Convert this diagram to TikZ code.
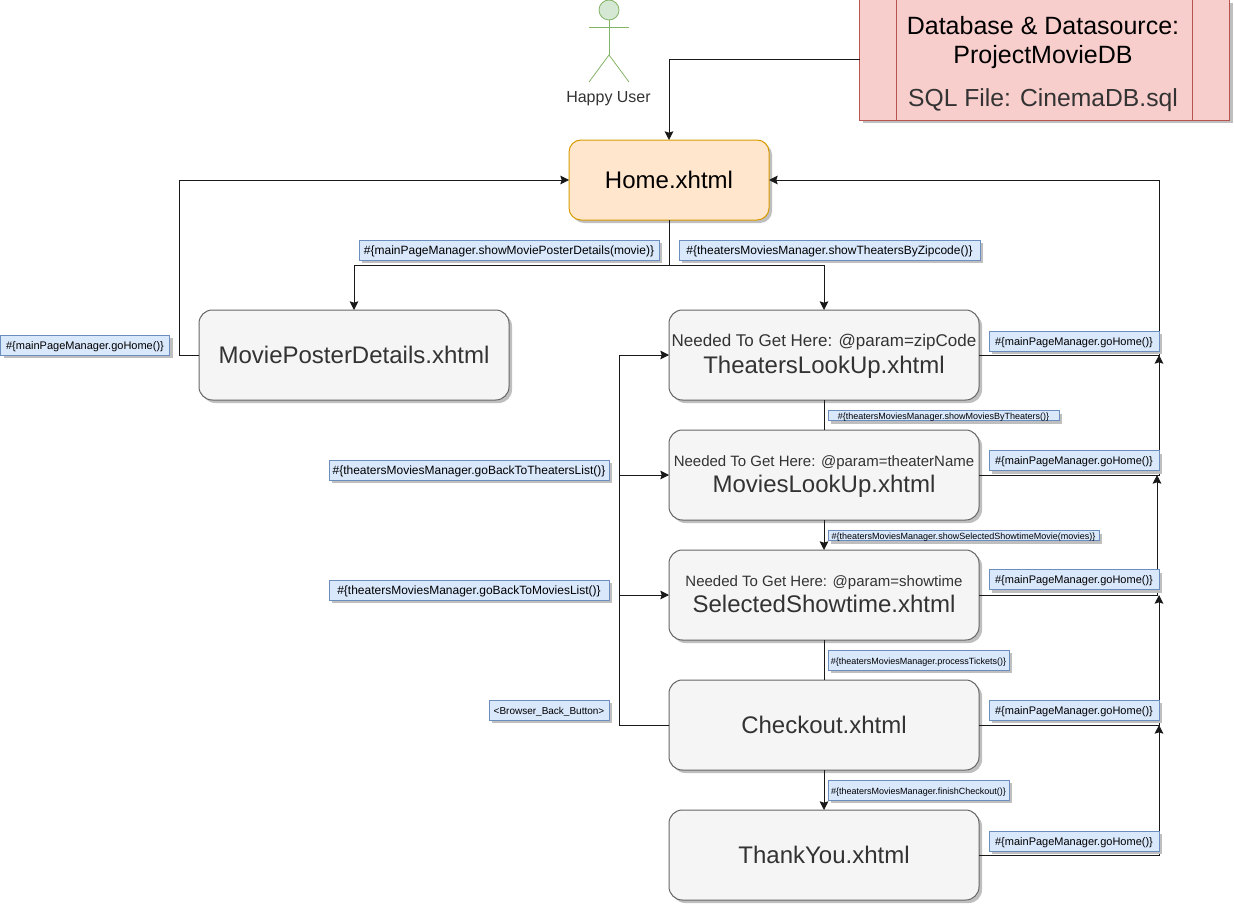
\documentclass[tikz,border=0pt]{standalone}
\usepackage{fontspec}
\setmainfont{Liberation Sans}
\usetikzlibrary{arrows.meta,shadows}
\definecolor{pagefill}{HTML}{F5F5F5}
\definecolor{pageline}{HTML}{666666}
\definecolor{pagetext}{HTML}{333333}
\definecolor{homefill}{HTML}{FFE6CC}
\definecolor{homeline}{HTML}{D79B00}
\definecolor{dbfill}{HTML}{F8CECC}
\definecolor{dbline}{HTML}{B85450}
\definecolor{tagfill}{HTML}{DAE8FC}
\definecolor{tagline}{HTML}{6C8EBF}
\definecolor{userfill}{HTML}{D5E8D4}
\definecolor{userline}{HTML}{82B366}
\newcommand{\pxfont}[1]{\fontsize{#1}{#1}\selectfont}
\newcommand{\needline}[2]{{\pxfont{#1}\rule{0pt}{11pt}#2}}
\tikzset{
softshadow/.style={drop shadow={shadow xshift=2.25pt,shadow yshift=-2.25pt,fill=black!25,opacity=1}},
box/.style={rectangle,draw,line width=.75pt,outer sep=0pt,inner sep=0pt,softshadow},
pagebox/.style={box,rounded corners=10pt,fill=pagefill,draw=pageline,text=pagetext,minimum width=232.5pt,minimum height=67.5pt,align=center,font=\pxfont{18}},
tag/.style={box,fill=tagfill,draw=tagline,text=black,text height=6.75pt,text depth=.75pt,minimum height=15pt},
link/.style={line width=.75pt,draw=black!90},
arrow/.style={link,-{Stealth[length=6.5pt,width=6.5pt,inset=1pt]}},
usr/.style={line width=.6pt,draw=userline}
}
\begin{document}
\begin{tikzpicture}[x=.75pt,y=-.75pt]
\useasboundingbox(1,0)rectangle(1235,906);
\node[box,fill=dbfill,draw=dbline,minimum width=277.5pt,minimum height=90pt](db)at(1045.5,60){};
\draw[line width=.75pt,draw=dbline]([xshift=27.75pt]db.north west)--([xshift=27.75pt]db.south west);
\draw[line width=.75pt,draw=dbline]([xshift=-27.75pt]db.north east)--([xshift=-27.75pt]db.south east);
\node[inner sep=0pt,align=center,font=\pxfont{18.75}](dbtext)at(1044,64){Database \& Datasource:\\[3pt]ProjectMovieDB\\[14pt]\textcolor{pagetext}{\pxfont{18.5}SQL File: CinemaDB.sql}};
\draw[usr,fill=userfill](610,10)ellipse(10 and 10);
\coordinate(neck)at(610,20);
\coordinate(hip)at(610,55);
\draw[usr](neck)--(hip);
\draw[usr](590,27)--(630,27);
\draw[usr](590,82)--(hip)--(630,82);
\node[text=pagetext,font=\pxfont{12}](user)at(609.5,99){Happy User};
\node[box,rounded corners=9pt,fill=homefill,draw=homeline,minimum width=150pt,minimum height=60pt,font=\pxfont{18}](home)at(670,180){Home.xhtml};
\node[pagebox](poster)at(355,355){MoviePosterDetails.xhtml};
\node[pagebox](theaters)at(825,355){\needline{12.75}{Needed To Get Here: @param=zipCode}\\[2pt]TheatersLookUp.xhtml};
\node[pagebox](movies)at(825,475){\needline{11.25}{Needed To Get Here: @param=theaterName}\\[1.3pt]MoviesLookUp.xhtml};
\node[pagebox](selected)at(825,595){\needline{11.25}{Needed To Get Here: @param=showtime}\\[1.5pt]SelectedShowtime.xhtml\rule[-3.8pt]{0pt}{3.8pt}};
\node[pagebox](checkout)at(825,725){Checkout.xhtml};
\node[pagebox](thankyou)at(825,855){ThankYou.xhtml};
\coordinate(split)at(670,265);
\coordinate(backleft)at(180,355);
\coordinate(backrail)at(620,725);
\coordinate(railthe)at(1160,355);
\coordinate(railmov)at(1160,475);
\coordinate(railsel)at(1158,595);
\coordinate(railche)at(1160,725);
\coordinate(railtha)at(1160,855);
\draw[arrow](db.west)-|(home.north);
\draw[link](home.south)--(split);
\draw[arrow](split)-|(poster.north);
\draw[arrow](split)-|(theaters.north);
\draw[arrow](poster.west)--(backleft)|-(home.west);
\draw[link](theaters.south)--(movies.north);
\draw[arrow](movies.south)--(selected.north);
\draw[link](selected.south)--(checkout.north);
\draw[arrow](checkout.south)--(thankyou.north);
\draw[arrow](checkout.west)--(backrail)|-(theaters.west);
\draw[arrow](backrail|-movies.west)--(movies.west);
\draw[arrow](backrail|-selected.west)--(selected.west);
\draw[arrow](theaters.east)--(railthe)|-(home.east);
\draw[arrow](movies.east)--(railmov)--(railthe);
\draw[arrow](selected.east)--(railsel)--(railsel|-railmov);
\draw[arrow](checkout.east)--(railche)--(railche|-railsel);
\draw[arrow](thankyou.east)--(railtha)--(railche);
\node[tag,minimum width=225pt,font=\pxfont{9}](tagposter)at(510,250){\#\{mainPageManager.showMoviePosterDetails(movie)\}};
\node[tag,minimum width=225.75pt,font=\pxfont{9}](tagzip)at(830.5,250){\#\{theatersMoviesManager.showTheatersByZipcode()\}};
\node[tag,minimum width=126.75pt,font=\pxfont{8.25}](taghomeposter)at(86,345){\#\{mainPageManager.goHome()\}};
\node[tag,minimum width=210pt,font=\pxfont{9}](tagtheaterlist)at(470,470){\#\{theatersMoviesManager.goBackToTheatersList()\}};
\node[tag,minimum width=210pt,font=\pxfont{9}](tagmovielist)at(470,590){\#\{theatersMoviesManager.goBackToMoviesList()\}};
\node[tag,minimum width=90pt,font=\pxfont{7.5}](tagback)at(550,710){<Browser\_Back\_Button>};
\node[tag,minimum width=127.5pt,font=\pxfont{8.25}](taghomethe)at(1075,341){\#\{mainPageManager.goHome()\}};
\node[tag,minimum width=127.5pt,font=\pxfont{8.25}](taghomemov)at(1075,460.5){\#\{mainPageManager.goHome()\}};
\node[tag,minimum width=127.5pt,font=\pxfont{8.25}](taghomesel)at(1075,579.5){\#\{mainPageManager.goHome()\}};
\node[tag,minimum width=127.5pt,font=\pxfont{8.25}](taghomeche)at(1075,710){\#\{mainPageManager.goHome()\}};
\node[tag,minimum width=127.5pt,font=\pxfont{8.25}](taghometha)at(1075,841){\#\{mainPageManager.goHome()\}};
\node[tag,minimum width=173.25pt,minimum height=7.5pt,font=\pxfont{6.75}](tagbytheaters)at(944.5,415.5){\#\{theatersMoviesManager.showMoviesByTheaters()\}};
\node[tag,minimum width=203.25pt,minimum height=7.5pt,font=\pxfont{6.75}](tagshowtime)at(964.5,535.5){\#\{theatersMoviesManager.showSelectedShowtimeMovie(movies)\}};
\node[tag,minimum width=135.75pt,font=\pxfont{6.75}](tagtickets)at(919.5,660){\#\{theatersMoviesManager.processTickets()\}};
\node[tag,minimum width=135.75pt,font=\pxfont{6.75}](tagfinish)at(919.5,790){\#\{theatersMoviesManager.finishCheckout()\}};
\end{tikzpicture}
\end{document}
